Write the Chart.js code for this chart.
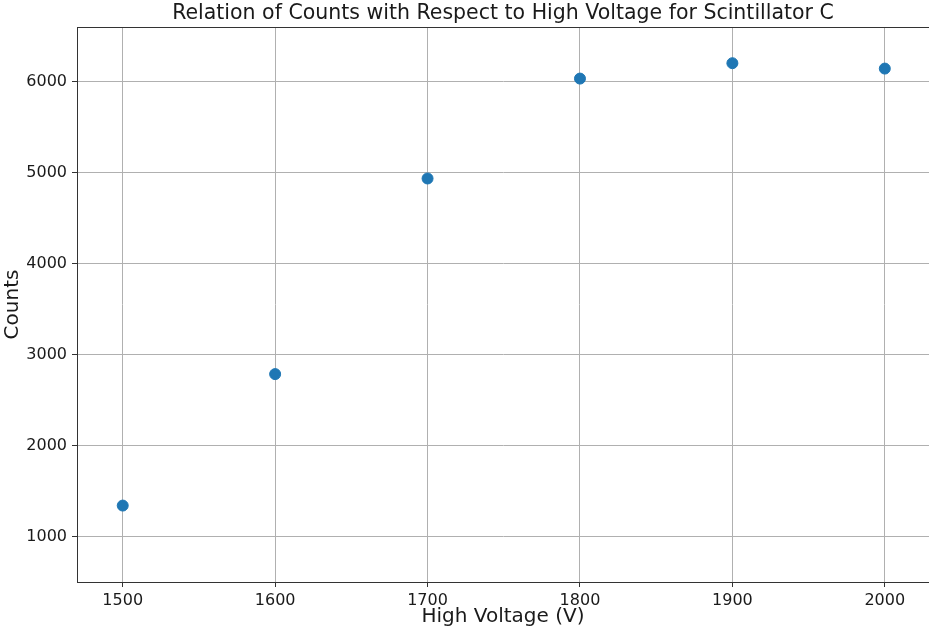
<!DOCTYPE html>
<html>
<head>
<meta charset="utf-8">
<script src="https://cdn.jsdelivr.net/npm/chart.js@4/dist/chart.umd.min.js"></script>
<style>
  html, body { margin: 0; padding: 0; background: #fff; overflow: hidden; }
  #wrap { width: 929px; height: 630px; }
</style>
</head>
<body>
<div id="wrap"><canvas id="scatterChart" width="929" height="630"></canvas></div>
<script>
// Data
const voltages = [1500, 1600, 1700, 1800, 1900, 2000];
const counts = [1340, 2785, 4935, 6033, 6202, 6143];

// Tick labels
const xTicks = [1500, 1600, 1700, 1800, 1900, 2000];
const yTicks = [1000, 2000, 3000, 4000, 5000, 6000];

const chartTitle = 'Relation of Counts with Respect to High Voltage for Scintillator C';
const textColor = '#1a1a1a';
const gridColor = '#b0b0b0';
const spineColor = '#333333';

// Box round the plot plus a title centred over the axes (matplotlib style)
const frame = {
    id: 'frame',
    afterDatasetsDraw(chart) {
        const { ctx, chartArea } = chart;
        ctx.save();
        ctx.strokeStyle = spineColor;
        ctx.lineWidth = 1;
        ctx.strokeRect(chartArea.left + 0.5, chartArea.top + 0.5,
            chartArea.right - chartArea.left, chartArea.bottom - chartArea.top);
        ctx.fillStyle = textColor;
        ctx.font = '20.5px "DejaVu Sans"';
        ctx.textAlign = 'center';
        ctx.textBaseline = 'middle';
        ctx.fillText(chartTitle, (chartArea.left + chartArea.right) / 2, 14);
        ctx.restore();
    }
};

const ctx = document.getElementById('scatterChart').getContext('2d');
new Chart(ctx, {
    type: 'scatter',
    data: {
        datasets: [{
            data: voltages.map((v, i) => ({ x: v, y: counts[i] })),
            backgroundColor: '#1f77b4',
            borderColor: '#1f77b4',
            pointRadius: 5.5,
            pointHoverRadius: 5.5
        }]
    },
    options: {
        responsive: false,
        animation: false,
        layout: { padding: { top: 27, left: 0, right: 0, bottom: 0 }, autoPadding: false },
        plugins: {
            legend: { display: false },
            tooltip: { enabled: false },
            title: { display: false }
        },
        scales: {
            x: {
                type: 'linear',
                min: 1470,
                max: 2029,
                afterBuildTicks: (scale) => { scale.ticks = xTicks.map(v => ({ value: v })); },
                afterFit: (scale) => { scale.height = 48; },
                border: { display: true, color: spineColor, width: 1 },
                grid: { color: gridColor, lineWidth: 1, tickLength: 5, tickColor: spineColor },
                ticks: {
                    color: textColor,
                    padding: 4,
                    maxRotation: 0,
                    font: { family: 'DejaVu Sans', size: 16 },
                    callback: (value) => String(value)
                },
                title: {
                    display: true,
                    text: 'High Voltage (V)',
                    color: textColor,
                    font: { family: 'DejaVu Sans', size: 20, lineHeight: 1.2 },
                    padding: { top: 0, bottom: 1 }
                }
            },
            y: {
                type: 'linear',
                min: 500,
                max: 6600,
                afterBuildTicks: (scale) => { scale.ticks = yTicks.map(v => ({ value: v })); },
                afterFit: (scale) => { scale.width = 77; },
                border: { display: true, color: spineColor, width: 1 },
                grid: { color: gridColor, lineWidth: 1, tickLength: 5, tickColor: spineColor },
                ticks: {
                    color: textColor,
                    padding: 5,
                    font: { family: 'DejaVu Sans', size: 16 },
                    callback: (value) => String(value)
                },
                title: {
                    display: true,
                    text: 'Counts',
                    color: textColor,
                    font: { family: 'DejaVu Sans', size: 20, lineHeight: 1.2 },
                    padding: { top: 1, bottom: 0 }
                }
            }
        }
    },
    plugins: [frame]
});
</script>
</body>
</html>
